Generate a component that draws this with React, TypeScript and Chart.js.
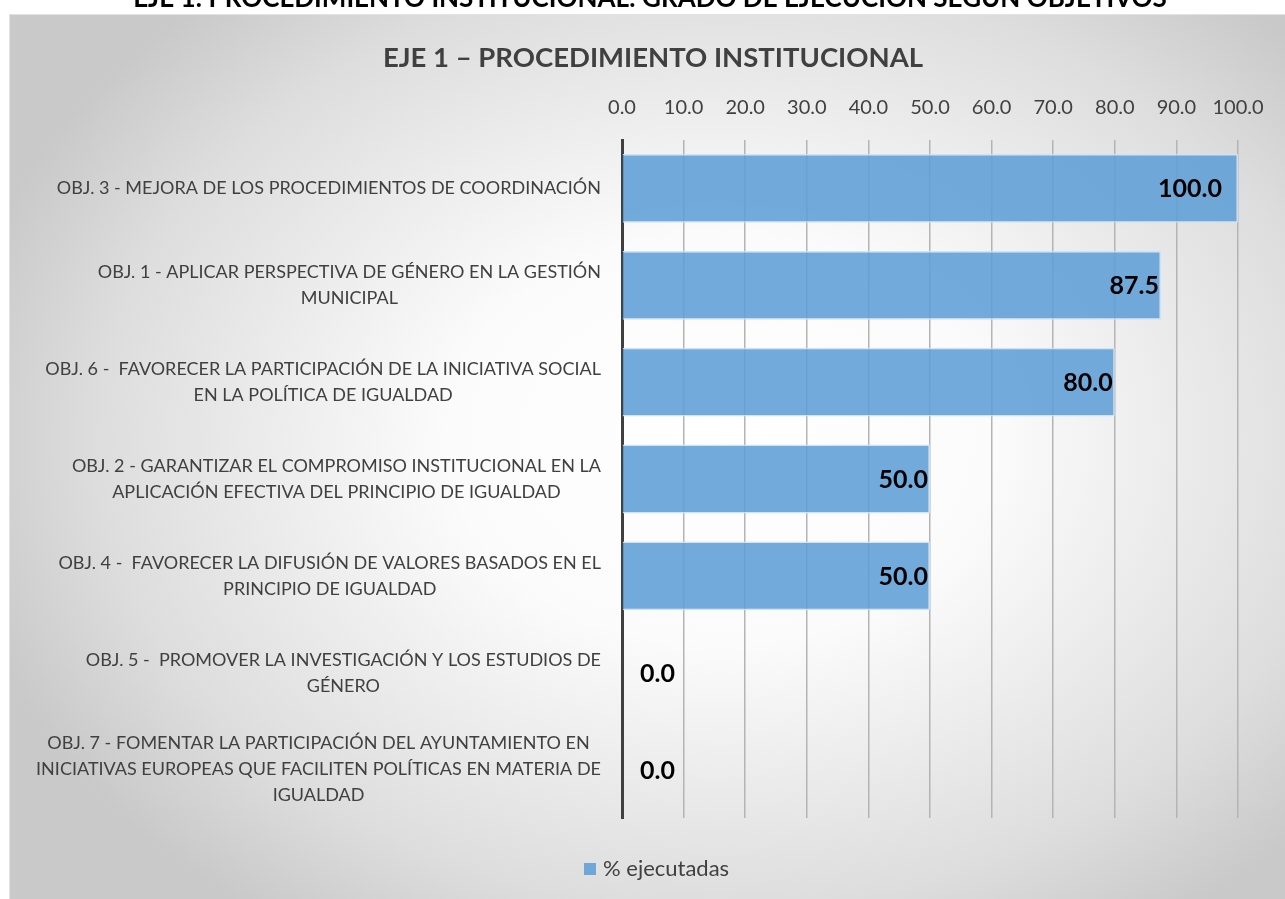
import { useEffect, useRef } from "react";
import Chart from "chart.js/auto";

const pageTitle = "EJE 1: PROCEDIMIENTO INSTITUCIONAL: GRADO DE EJECUCIÓN SEGÚN OBJETIVOS";
const chartTitle = "EJE 1 – PROCEDIMIENTO INSTITUCIONAL";
const seriesLabel = "% ejecutadas";

const categories: string[][] = [
  ["OBJ. 3 - MEJORA DE LOS PROCEDIMIENTOS DE COORDINACIÓN"],
  ["OBJ. 1 - APLICAR PERSPECTIVA DE GÉNERO EN LA GESTIÓN", "MUNICIPAL"],
  ["OBJ. 6 -  FAVORECER LA PARTICIPACIÓN DE LA INICIATIVA SOCIAL", "EN LA POLÍTICA DE IGUALDAD"],
  ["OBJ. 2 - GARANTIZAR EL COMPROMISO INSTITUCIONAL EN LA", "APLICACIÓN EFECTIVA DEL PRINCIPIO DE IGUALDAD"],
  ["OBJ. 4 -  FAVORECER LA DIFUSIÓN DE VALORES BASADOS EN EL", "PRINCIPIO DE IGUALDAD"],
  ["OBJ. 5 -  PROMOVER LA INVESTIGACIÓN Y LOS ESTUDIOS DE", "GÉNERO"],
  ["OBJ. 7 - FOMENTAR LA PARTICIPACIÓN DEL AYUNTAMIENTO EN", "INICIATIVAS EUROPEAS QUE FACILITEN POLÍTICAS EN MATERIA DE", "IGUALDAD"],
];
const values: number[] = [100, 87.5, 80, 50, 50, 0, 0];
const axisMin = 0;
const axisMax = 100;
const axisStep = 10;

const BAR_COLOR = "rgba(96,158,215,0.88)";
const TEXT = "#404040";
const FONT = "Lato";

const decoPlugin = {
  id: "deco",
  beforeDraw(chart: any) {
    const { ctx, width, height } = chart;
    ctx.save();
    ctx.fillStyle = "#ffffff";
    ctx.fillRect(0, 0, width, height);
    const bx = 9, by = 14;
    ctx.save();
    ctx.beginPath();
    ctx.rect(bx, by, width + 20, height + 20);
    ctx.clip();
    const cx = 720, cy = 440, sy = 0.75;
    ctx.translate(cx, cy);
    ctx.scale(1, sy);
    const g = ctx.createRadialGradient(0, 0, 0, 0, 0, 780);
    g.addColorStop(0, "#ffffff");
    g.addColorStop(0.35, "#fbfbfb");
    g.addColorStop(0.8, "#dddddd");
    g.addColorStop(1, "#c9c9c9");
    ctx.fillStyle = g;
    ctx.fillRect(-1500, -1500, 3000, 3000);
    ctx.restore();
    ctx.strokeStyle = "#e2e2e2";
    ctx.lineWidth = 1;
    ctx.strokeRect(bx + 0.5, by + 0.5, width + 20, height + 20);
    ctx.restore();
  },
  afterDatasetsDraw(chart: any) {
    const { ctx, chartArea } = chart;
    const meta = chart.getDatasetMeta(0);
    const xs = chart.scales.x;
    const base = xs.getPixelForValue(0);
    ctx.save();
    ctx.font = `bold 25px ${FONT}`;
    ctx.fillStyle = "#000000";
    ctx.textBaseline = "middle";
    meta.data.forEach((el: any, i: number) => {
      const v = values[i];
      const txt = v.toFixed(1);
      if (v > 0) {
        ctx.textAlign = "right";
        const x = Math.min(el.x - 2, chartArea.right - 16);
        ctx.fillText(txt, x, el.y + 1);
      } else {
        ctx.textAlign = "left";
        ctx.fillText(txt, base + 18, el.y + 1);
      }
    });
    ctx.restore();
  },
  afterDraw(chart: any) {
    const { ctx, chartArea } = chart;
    const ys = chart.scales.y;
    ctx.save();
    // category labels
    ctx.font = `18px ${FONT}`;
    ctx.fillStyle = TEXT;
    ctx.textAlign = "center";
    ctx.textBaseline = "middle";
    const right = chartArea.left - 21;
    const lh = 26;
    categories.forEach((lines, i) => {
      const yc = ys.getPixelForValue(i);
      const widest = Math.max(...lines.map((l) => ctx.measureText(l).width));
      const cxl = right - widest / 2;
      lines.forEach((l, j) => {
        ctx.fillText(l, cxl, yc + (j - (lines.length - 1) / 2) * lh);
      });
    });
    // chart title
    ctx.font = `bold 27.5px ${FONT}`;
    ctx.fillStyle = TEXT;
    ctx.fillText(chartTitle, 653, 58);
    // page title (cut off at top)
    ctx.font = `bold 26px ${FONT}`;
    ctx.fillStyle = "#000000";
    ctx.textBaseline = "alphabetic";
    ctx.fillText(pageTitle, 650, 7, 1085);
    // legend
    ctx.fillStyle = BAR_COLOR;
    ctx.fillRect(584, 863, 12, 12);
    ctx.font = `22px ${FONT}`;
    ctx.fillStyle = TEXT;
    ctx.textAlign = "left";
    ctx.textBaseline = "middle";
    ctx.fillText(seriesLabel, 603, 869);
    ctx.restore();
  },
};

export default function App() {
  const ref = useRef<HTMLCanvasElement | null>(null);
  useEffect(() => {
    if (!ref.current) return;
    const chart = new Chart(ref.current, {
      type: "bar",
      data: {
        labels: categories.map((c) => c.join(" ")),
        datasets: [
          {
            label: seriesLabel,
            data: values,
            backgroundColor: BAR_COLOR,
            borderColor: "rgba(205,225,245,0.95)",
            borderWidth: 1.5,
            barPercentage: 0.71,
            categoryPercentage: 1,
          },
        ],
      },
      options: {
        indexAxis: "y",
        animation: false,
        responsive: false,
        maintainAspectRatio: false,
        layout: { padding: { left: 622, right: 47, top: 76, bottom: 81 } },
        plugins: {
          legend: { display: false },
          title: { display: false },
          tooltip: { enabled: false },
        },
        scales: {
          x: {
            position: "top",
            min: axisMin,
            max: axisMax,
            ticks: {
              stepSize: axisStep,
              padding: 20,
              color: TEXT,
              font: { family: FONT, size: 20 },
              callback: (v: any) => Number(v).toFixed(1),
              maxRotation: 0,
              autoSkip: false,
            },
            grid: { color: "#b4b4b4", lineWidth: 1.5, drawTicks: false },
            border: { display: false },
          },
          y: {
            ticks: { display: false },
            grid: { display: false, drawTicks: false },
            border: { display: true, color: "#404040", width: 3 },
          },
        },
      },
      plugins: [decoPlugin],
    });
    return () => chart.destroy();
  }, []);
  return (
    <div style={{ position: "absolute", left: 0, top: 0, width: 1285, height: 899, overflow: "hidden" }}>
      <canvas ref={ref} width={1285} height={899} style={{ display: "block" }} />
    </div>
  );
}
